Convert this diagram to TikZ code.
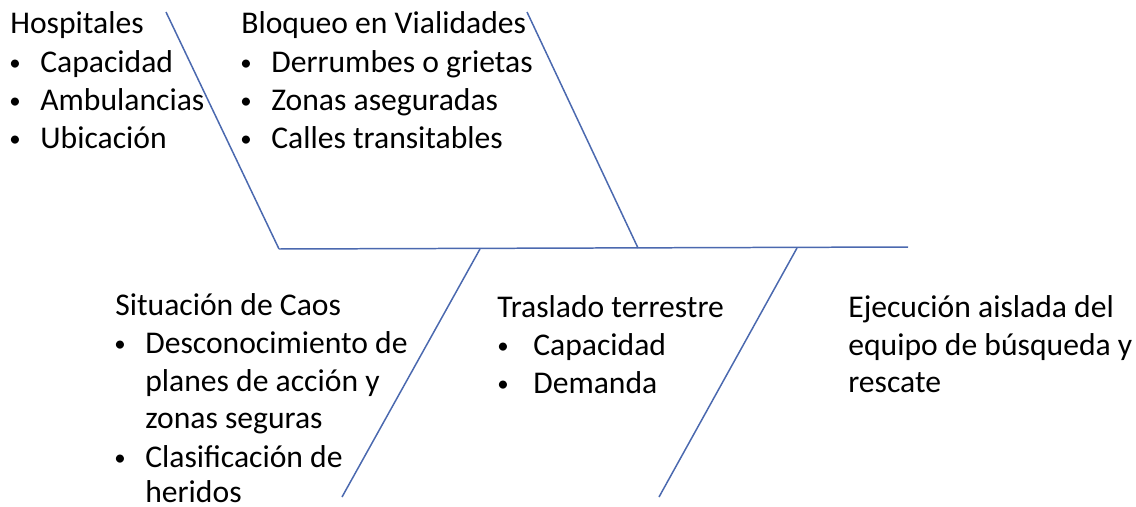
\documentclass[tikz,border=0pt]{standalone}
\usepackage{fontspec}
\setmainfont{Carlito}
\definecolor{bone}{RGB}{75,105,175}
\begin{document}
\begin{tikzpicture}[x=0.02cm,y=-0.02cm,
  txt/.style={anchor=base west,inner sep=0pt,font=\fontsize{18}{20}\selectfont},
  bul/.style={anchor=base,inner sep=0pt,font=\fontsize{13}{15}\selectfont},
  boneline/.style={draw=bone,line width=0.85pt}]
\useasboundingbox (0,0) rectangle (1136,507);
% skeleton coordinates
\coordinate (sL) at (279,249);
\coordinate (sR) at (908,247);
\coordinate (b1top) at (166,12);
\coordinate (b1bot) at (279,249);
\coordinate (b2top) at (527,12);
\coordinate (b2bot) at (638,248);
\coordinate (b3top) at (480,249);
\coordinate (b3bot) at (342,497);
\coordinate (b4top) at (797,248);
\coordinate (b4bot) at (659,497);
\draw[boneline] (sL) -- (sR);
\draw[boneline] (b1top) -- (b1bot);
\draw[boneline] (b2top) -- (b2bot);
\draw[boneline] (b3top) -- (b3bot);
\draw[boneline] (b4top) -- (b4bot);
% Hospitales
\node[txt] (h0) at (10,33) {Hospitales};
\node[bul] (hb1) at (15,70) {•}; \node[txt] (h1) at (40,72) {Capacidad};
\node[bul] (hb2) at (15,108) {•}; \node[txt] (h2) at (40,110) {Ambulancias};
\node[bul] (hb3) at (15,146) {•}; \node[txt] (h3) at (40,148) {Ubicación};
% Bloqueo
\node[txt] (v0) at (241,33) {Bloqueo en Vialidades};
\node[bul] (vb1) at (246,70) {•}; \node[txt] (v1) at (271,72) {Derrumbes o grietas};
\node[bul] (vb2) at (246,108) {•}; \node[txt] (v2) at (271,110) {Zonas aseguradas};
\node[bul] (vb3) at (246,146) {•}; \node[txt] (v3) at (271,148) {Calles transitables};
% Situacion de Caos
\node[txt] (c0) at (115,315) {Situación de Caos};
\node[bul] (cb1) at (120,351) {•}; \node[txt] (c1) at (145,353) {Desconocimiento de};
\node[txt] (c2) at (145,391) {planes de acción y};
\node[txt] (c3) at (145,428) {zonas seguras};
\node[bul] (cb2) at (120,465) {•}; \node[txt] (c4) at (145,467) {Clasificación de};
\node[txt] (c5) at (145,502) {heridos};
% Traslado terrestre
\node[txt] (t0) at (497,317) {Traslado terrestre};
\node[bul] (tb1) at (503,353) {•}; \node[txt] (t1) at (533,355) {Capacidad};
\node[bul] (tb2) at (503,391) {•}; \node[txt] (t2) at (533,393) {Demanda};
% Ejecucion
\node[txt] (e0) at (848,317) {Ejecución aislada del};
\node[txt] (e1) at (848,355) {equipo de búsqueda y};
\node[txt] (e2) at (848,392) {rescate};
\end{tikzpicture}
\end{document}
